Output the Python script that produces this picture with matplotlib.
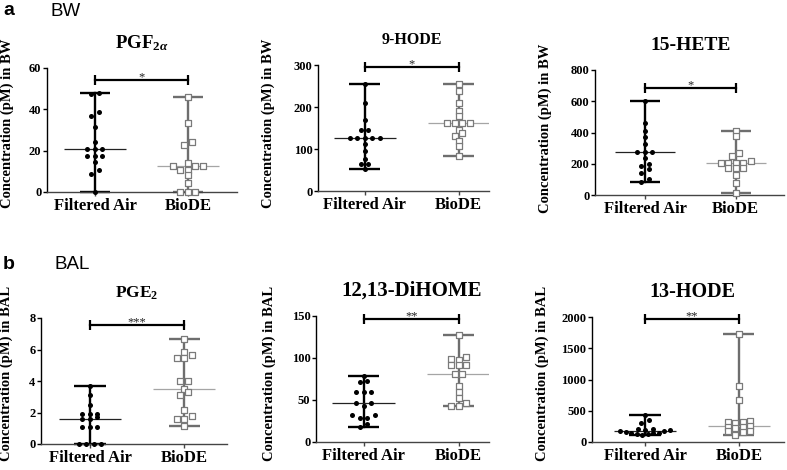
import numpy as np
import matplotlib
matplotlib.use("Agg")
import matplotlib.pyplot as plt

plt.rcParams['font.family'] = ['Liberation Serif', 'DejaVu Serif']
plt.rcParams['font.weight'] = 'bold'
plt.rcParams['mathtext.fontset'] = 'custom'
plt.rcParams['mathtext.rm'] = 'Liberation Serif:bold'
plt.rcParams['mathtext.it'] = 'Liberation Serif:bold:italic'
plt.rcParams['mathtext.bf'] = 'Liberation Serif:bold'

groups = ['Filtered Air', 'BioDE']

titles = [r'PGF$_{2\alpha}$', '9-HODE', '15-HETE', r'PGE$_2$', '12,13-DiHOME', '13-HODE']
ylabels = ['Concentration (pM) in BW'] * 3 + ['Concentration (pM) in BAL'] * 3
stars = ['*', '*', '*', '***', '**', '**']
bracket_y = [54.3, 296, 687, 7.57, 147, 1973]
ymax = [60, 300, 800, 8, 150, 2000]
ystep = [20, 100, 200, 2, 50, 500]

# BW (panel a)
pgf2a_air = [47.8, 47.6, 38.7, 36.9, 31.3, 24.3, 21, 21, 21, 17.2, 17.2, 17.2, 14.6, 10.5, 8.5, 0]
pgf2a_bio = [45.8, 33.4, 24.0, 22.7, 14.0, 12.4, 12.4, 12.4, 10.5, 10.5, 8.0, 4.4, 0, 0, 0]
hode9_air = [255, 210, 170, 145, 145, 126, 126, 126, 126, 126, 111, 95, 77, 65, 65, 53]
hode9_bio = [255, 239, 210, 191, 178, 163, 163, 163, 163, 145, 139, 132, 119, 108, 83]
hete15_air = [603, 459, 408, 369, 326, 275, 275, 275, 235, 198, 186, 164, 140, 104, 85]
hete15_bio = [410, 375, 270, 250, 215, 205, 205, 205, 205, 175, 175, 175, 128, 79, 10]
# BAL (panel b)
pge2_air = [3.69, 3.12, 2.48, 1.89, 1.89, 1.89, 1.74, 1.57, 1.57, 1.1, 1.1, 1.1, 0, 0, 0, 0]
pge2_bio = [6.68, 5.84, 5.62, 5.45, 5.45, 3.99, 3.99, 3.48, 3.27, 3.1, 2.14, 1.78, 1.57, 1.57, 1.15]
dihome_air = [79, 73, 72, 60, 60, 59, 46, 46, 43, 32, 32, 29, 28, 21, 18]
dihome_bio = [127, 100.7, 99, 97.5, 91.5, 91.5, 91.5, 81, 81, 66.5, 59.7, 52.5, 47, 42.6, 42.6]
hode13_air = [427, 357, 309, 215, 210, 200, 190, 180, 170, 160, 150, 145, 140, 135, 130, 120]
hode13_bio = [1733, 890, 667, 330, 325, 315, 310, 260, 240, 235, 225, 180, 170, 160, 120]

data = [(pgf2a_air, pgf2a_bio), (hode9_air, hode9_bio), (hete15_air, hete15_bio),
        (pge2_air, pge2_bio), (dihome_air, dihome_bio), (hode13_air, hode13_bio)]

W, H = 787, 470
# axes boxes in pixels: left, top, right, bottom
boxes = [(47, 68, 237, 192), (318, 65, 489, 191), (595, 70, 784, 195),
         (41, 318, 227, 444), (316, 316, 489, 442), (592, 317, 784, 442)]
xlims = [(-0.516, 1.527), (-0.497, 1.322), (-0.551, 1.533),
         (-0.521, 1.457), (-0.502, 1.319), (-0.564, 1.479)]
ylab_x = [14, 275, 552, 13, 276, 549]
ylab_y = [123, 123, 128, 373, 373, 373]
title_size = [13.5, 11.5, 14, 12.5, 15, 14.5]


def row_offsets(values, ypx, xpx, step=7.5, gap=4.5):
    """GraphPad-like scatter: points closer than `gap` px share a row."""
    vals = np.asarray(values, float)
    order = np.argsort(vals)
    rows, cur = [], [order[0]]
    for i in order[1:]:
        if (vals[i] - vals[cur[-1]]) * ypx < gap and (vals[i] - vals[cur[0]]) * ypx < gap:
            cur.append(i)
        else:
            rows.append(cur)
            cur = [i]
    rows.append(cur)
    offs = np.zeros(len(vals))
    for r in rows:
        n = len(r)
        s = step if n <= 6 else 5.5
        pos = (np.arange(n) - (n - 1) / 2.0) * s
        pos = pos[np.argsort(np.abs(pos), kind='stable')]
        for k, i in enumerate(r):
            offs[i] = pos[k]
    return offs / xpx


fig = plt.figure(figsize=(W / 100, H / 100), dpi=100)

for p in range(6):
    l, t, r, b = boxes[p]
    ax = fig.add_axes([l / W, 1 - b / H, (r - l) / W, (b - t) / H])
    ax.set_xlim(*xlims[p])
    ax.set_ylim(0, ymax[p])
    xpx = (r - l) / (xlims[p][1] - xlims[p][0])
    ypx = (b - t) / ymax[p]

    for g, vals in enumerate(data[p]):
        vals = np.asarray(vals, float)
        x = g + row_offsets(vals, ypx, xpx)
        med = np.median(vals)
        lo, hi = vals.min(), vals.max()
        if g == 0:
            lc, mc = 'black', '#222222'
        else:
            lc, mc = '#6e6e6e', '#a5a5a5'
        ax.plot([g, g], [lo, hi], color=lc, lw=1.7, zorder=2, clip_on=False)
        ax.hlines([lo, hi], g - 0.165, g + 0.165, color=lc, lw=1.7, zorder=2, clip_on=False)
        ax.hlines(med, g - 0.33, g + 0.33, color=mc, lw=0.9, zorder=2)
        if g == 0:
            ax.scatter(x, vals, s=13, c='black', lw=0, zorder=3, clip_on=False)
        else:
            ax.scatter(x, vals, s=14, marker='s', facecolor='white', edgecolor='#7a7a7a',
                       lw=0.9, zorder=3, clip_on=False)

    # significance bracket
    ax.plot([0, 1], [bracket_y[p]] * 2, color='black', lw=1.6, marker='|', ms=7, mew=1.6,
            clip_on=False, zorder=4)
    ax.annotate(stars[p], xy=(0.5, bracket_y[p]), xytext=(0, -0.5), textcoords='offset points',
                ha='center', va='baseline', fontsize=9, fontweight='normal', color='#222222')

    ax.annotate(titles[p], xy=(0.5, 1), xycoords=('data', 'axes fraction'), xytext=(0, 18),
                textcoords='offset points', ha='center', va='center', fontsize=title_size[p],
                fontweight='bold')

    for s in ['top', 'right']:
        ax.spines[s].set_visible(False)
    ax.spines['left'].set_linewidth(1.0)
    ax.spines['left'].set_color('black')
    ax.spines['bottom'].set_linewidth(1.0)
    ax.spines['bottom'].set_color('#444444')

    ax.set_yticks(np.arange(0, ymax[p] + ystep[p] / 2, ystep[p]))
    ax.set_xticks([0, 1])
    ax.set_xticklabels(groups)
    ax.tick_params(axis='y', direction='out', length=3, width=1, pad=1, labelsize=9)
    ax.tick_params(axis='x', direction='out', length=3, width=1, pad=1.5, labelsize=12,
                   color='#444444')

    fig.text(ylab_x[p] / W, 1 - ylab_y[p] / H, ylabels[p], rotation=90, ha='right', va='center',
             fontsize=10.5, fontweight='bold')

# panel headings
fig.text(3 / W, 1 - 15 / H, 'a', family='Liberation Sans', fontweight='bold', fontsize=14,
         va='baseline')
fig.text(50 / W, 1 - 16 / H, 'BW', family='Liberation Sans', fontweight='normal', fontsize=13.5,
         va='baseline')
fig.text(3 / W, 1 - 269 / H, 'b', family='Liberation Sans', fontweight='bold', fontsize=14,
         va='baseline')
fig.text(55 / W, 1 - 269 / H, 'BAL', family='Liberation Sans', fontweight='normal', fontsize=13.5,
         va='baseline')

fig.savefig('out.png', dpi=100)
